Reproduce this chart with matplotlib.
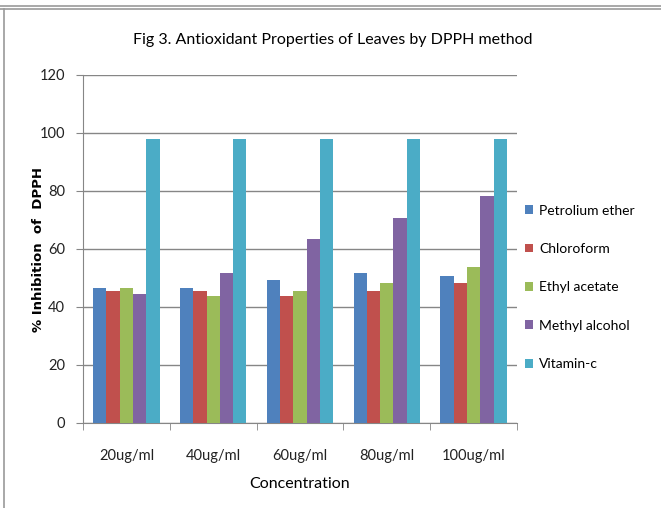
import numpy as np
import matplotlib.pyplot as plt
from matplotlib.lines import Line2D

# Data
categories = ['20ug/ml', '40ug/ml', '60ug/ml', '80ug/ml', '100ug/ml']
petroleum_ether = [46.6, 46.6, 49.2, 51.8, 50.8]
chloroform = [45.5, 45.5, 43.9, 45.5, 48.2]
ethyl_acetate = [46.6, 43.9, 45.5, 48.2, 53.9]
methyl_alcohol = [44.5, 51.8, 63.3, 70.6, 78.3]
vitamin_c = [97.8, 97.8, 97.8, 97.8, 97.8]

series_names = ['Petrolium ether', 'Chloroform', 'Ethyl acetate', 'Methyl alcohol', 'Vitamin-c']
series = [petroleum_ether, chloroform, ethyl_acetate, methyl_alcohol, vitamin_c]
colors = ['#4F81BD', '#C0504D', '#9BBB59', '#8064A2', '#4BACC6']

plt.rcParams['font.family'] = ['Lato', 'DejaVu Sans']

fig = plt.figure(figsize=(6.61, 5.08), dpi=100)
ax = fig.add_axes([83 / 661, 1 - 423 / 508, (517 - 83) / 661, (423 - 75) / 508])

x = np.arange(len(categories))
width = 0.153
for i, (name, vals, c) in enumerate(zip(series_names, series, colors)):
    ax.bar(x + (i - 2) * width, vals, width, color=c, label=name, zorder=3)

ax.set_xlim(-0.5, len(categories) - 0.5)
ax.set_ylim(0, 120)
ax.set_yticks(range(0, 121, 20))
ax.set_xticks(x)
ax.set_xticklabels(categories, fontsize=10.5)
ax.set_xticks(np.arange(-0.5, len(categories), 1), minor=True)
ax.tick_params(axis='x', which='major', length=0, pad=19, colors='#222222')
ax.tick_params(axis='x', which='minor', length=5, color='#868686')
ax.tick_params(axis='y', length=5, color='#868686', labelsize=10.5, labelcolor='#222222', pad=8)

ax.grid(axis='y', color='#868686', linewidth=1, zorder=0)
for s in ['top', 'right']:
    ax.spines[s].set_visible(False)
for s in ['left', 'bottom']:
    ax.spines[s].set_color('#868686')

ax.set_xlabel('Concentration', fontsize=11.5, labelpad=10)
ax.set_ylabel('% Inhibition  of  DPPH', fontsize=9.5, fontweight='bold',
              family='DejaVu Sans', labelpad=-4)
fig.text(333 / 661, 1 - 40 / 508, 'Fig 3. Antioxidant Properties of Leaves by DPPH method',
         ha='center', va='center', fontsize=11.5)

ax.legend(loc='center left', bbox_to_anchor=(0.99, 0.39), frameon=False,
          fontsize=10, handlelength=0.6, handleheight=0.6, handletextpad=0.4,
          labelspacing=1.9)

# screenshot frame lines
fig.add_artist(Line2D([0, 1], [1 - 5.5 / 508, 1 - 5.5 / 508], color='#9a9a9a', lw=1.2))
fig.add_artist(Line2D([0, 1], [1 - 8.5 / 508, 1 - 8.5 / 508], color='#9a9a9a', lw=1.2))
fig.add_artist(Line2D([3.5 / 661, 3.5 / 661], [0, 1 - 8.5 / 508], color='#9a9a9a', lw=1.2))

fig.savefig('out.png', dpi=100)
